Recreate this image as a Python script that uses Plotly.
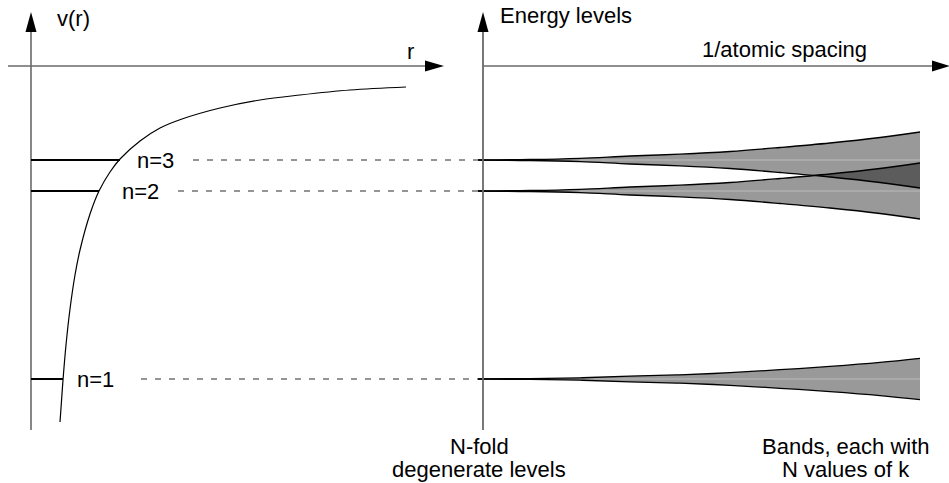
import plotly.graph_objects as go

# ---------------- data (drawing frame: x right, y down) ----------------
# potential curve v(r)
curve_r = [60, 61, 63, 66, 70, 75, 80, 90, 99, 110, 120, 140, 160, 182, 220, 260, 300, 350, 406]
curve_v = [422, 408, 380, 345, 309, 275, 250, 214, 191, 172, 159, 141, 128, 119, 108, 100, 95, 90, 87]

# atomic levels
level_labels = ["n=1", "n=2", "n=3"]
level_energy = [379, 191, 160]
level_r_turn = [63, 99, 120]          # where the level meets v(r)

# bands vs 1/atomic spacing
band_x = [478, 530, 580, 630, 680, 730, 780, 830, 880, 920]
halfwidth_n1 = [0, 0.4, 1.2, 2.9, 4.2, 6.3, 9.3, 12.6, 16.6, 20.7]
halfwidth_n2 = [0, 0.5, 1.7, 4.0, 5.8, 8.5, 12.5, 17.0, 22.5, 28.0]
halfwidth_n3 = [0, 0.5, 1.7, 4.0, 5.8, 8.5, 12.5, 17.0, 22.5, 28.0]

axis_titles = ["v(r)", "r", "Energy levels", "1/atomic spacing"]
bottom_left = ["N-fold", "degenerate levels"]
bottom_right = ["Bands, each with", "N values of k"]

# ---------------- styling / layout constants ----------------
W, H = 949, 483
FONT = dict(family="Liberation Sans, Arial, sans-serif", size=22, color="black")
AX_COL = "#6a6a6a"
left_axis_x, right_axis_x, axis_y = 31, 483, 66
label_x = {"n=1": 75, "n=2": 120, "n=3": 135}
dash_start = {"n=1": 141, "n=2": 178, "n=3": 193}

fig = go.Figure()

# band fills
widths = [halfwidth_n1, halfwidth_n2, halfwidth_n3]
for E, w in zip(level_energy, widths):
    fig.add_trace(go.Scatter(x=band_x, y=[E + v for v in w], mode="lines",
                             line=dict(width=0, shape="spline"), hoverinfo="skip", showlegend=False))
    fig.add_trace(go.Scatter(x=band_x, y=[E - v for v in w], mode="lines", fill="tonexty",
                             fillcolor="rgba(0,0,0,0.4)",
                             line=dict(width=0, shape="spline"), hoverinfo="skip", showlegend=False))
# faint center lines
for E in level_energy:
    fig.add_trace(go.Scatter(x=[band_x[2], band_x[-1]], y=[E, E], mode="lines",
                             line=dict(width=1, color="rgba(255,255,255,0.35)"),
                             hoverinfo="skip", showlegend=False))
# band edges
for E, w in zip(level_energy, widths):
    for sgn in (1, -1):
        fig.add_trace(go.Scatter(x=band_x, y=[E + sgn * v for v in w], mode="lines",
                                 line=dict(width=1.3, color="black", shape="spline"),
                                 hoverinfo="skip", showlegend=False))

# potential curve
fig.add_trace(go.Scatter(x=curve_r, y=curve_v, mode="lines",
                         line=dict(width=1.2, color="black", shape="spline"),
                         hoverinfo="skip", showlegend=False))

shapes = []
# axes
shapes += [
    dict(type="line", x0=left_axis_x, y0=430, x1=left_axis_x, y1=30, line=dict(color=AX_COL, width=1.6)),
    dict(type="line", x0=8, y0=axis_y, x1=428, y1=axis_y, line=dict(color=AX_COL, width=1.6)),
    dict(type="line", x0=right_axis_x, y0=430, x1=right_axis_x, y1=30, line=dict(color=AX_COL, width=1.8)),
    dict(type="line", x0=right_axis_x, y0=axis_y, x1=934, y1=axis_y, line=dict(color=AX_COL, width=1.6)),
]
def tri(path):
    return dict(type="path", path=path, fillcolor="black", line=dict(width=0))
shapes += [
    tri(f"M {left_axis_x} 12 L {left_axis_x-5.5} 32 L {left_axis_x+5.5} 32 Z"),
    tri(f"M {right_axis_x} 12 L {right_axis_x-5.5} 32 L {right_axis_x+5.5} 32 Z"),
    tri(f"M 444 {axis_y} L 425 {axis_y-5.5} L 425 {axis_y+5.5} Z"),
    tri(f"M 950 {axis_y} L 932 {axis_y-5.5} L 932 {axis_y+5.5} Z"),
]
# levels and dashed connectors
for lab, E, rt in zip(level_labels, level_energy, level_r_turn):
    shapes.append(dict(type="line", x0=left_axis_x, y0=E, x1=rt, y1=E,
                       line=dict(color="black", width=2)))
    shapes.append(dict(type="line", x0=dash_start[lab], y0=E, x1=band_x[0], y1=E,
                       line=dict(color="#2a2a2a", width=1, dash="6px,8px")))

ann = []
def txt(s, x, y, xanchor="center"):
    ann.append(dict(text=s, x=x, y=y, xref="x", yref="y", showarrow=False,
                    xanchor=xanchor, yanchor="middle", font=FONT))
txt(axis_titles[0], 73, 18)
txt(axis_titles[1], 410, 51)
txt(axis_titles[2], 566, 15)
txt(axis_titles[3], 784, 49)
for lab, E in zip(level_labels, level_energy):
    txt(lab, label_x[lab], E, xanchor="left")
txt(bottom_left[0], 479, 446)
txt(bottom_left[1], 479, 469)
txt(bottom_right[0], 846, 446)
txt(bottom_right[1], 846, 469.5)

fig.update_layout(
    width=W, height=H, margin=dict(l=0, r=0, t=0, b=0),
    paper_bgcolor="white", plot_bgcolor="white",
    xaxis=dict(range=[0, W], visible=False, fixedrange=True),
    yaxis=dict(range=[H, 0], visible=False, fixedrange=True),
    shapes=shapes, annotations=ann, showlegend=False,
)
fig.write_html("out.html", config={"displayModeBar": False},
               post_script="document.body.style.margin='0';document.body.style.overflow='hidden';")
